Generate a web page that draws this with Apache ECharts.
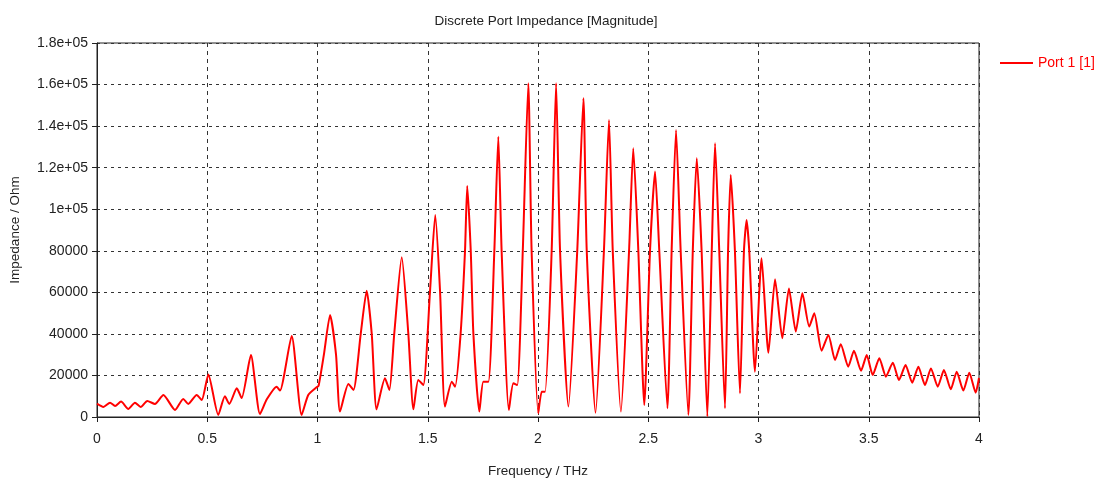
<!DOCTYPE html>
<html>
<head>
<meta charset="utf-8">
<title>Discrete Port Impedance</title>
<script src="https://cdn.jsdelivr.net/npm/echarts@6/dist/echarts.min.js"></script>
<style>
  html, body { margin: 0; padding: 0; background: #fff; }
  #chart { width: 1104px; height: 488px; }
</style>
</head>
<body>
<div id="chart"></div>
<script>
// frequency (THz) and impedance magnitude (Ohm)
var freqs = [
  0, 0.029, 0.059, 0.082, 0.109, 0.142, 0.172, 0.198, 0.228, 0.263,
  0.301, 0.354, 0.391, 0.414, 0.452, 0.475, 0.505, 0.55, 0.58, 0.60,
  0.634, 0.656, 0.698, 0.739, 0.77, 0.815, 0.83, 0.883, 0.928, 0.958,
  0.996, 1.005, 1.029, 1.057, 1.084, 1.102, 1.14, 1.163, 1.196, 1.223,
  1.246, 1.268, 1.306, 1.326, 1.348, 1.382, 1.412, 1.435, 1.457, 1.48,
  1.51, 1.534, 1.556, 1.578, 1.609, 1.624, 1.649, 1.669, 1.679, 1.695,
  1.707, 1.734, 1.752, 1.775, 1.802, 1.82, 1.835, 1.868, 1.888, 1.906,
  1.931, 1.956, 1.971, 2.001, 2.017, 2.032, 2.062, 2.082, 2.1, 2.138,
  2.178, 2.206, 2.221, 2.261, 2.299, 2.322, 2.339, 2.376, 2.413, 2.432,
  2.455, 2.482, 2.508, 2.531, 2.55, 2.587, 2.606, 2.626, 2.647, 2.682,
  2.702, 2.72, 2.742, 2.768, 2.788, 2.803, 2.822, 2.848, 2.862, 2.874,
  2.893, 2.916, 2.934, 2.946, 2.958, 2.984, 3.014, 3.045, 3.075, 3.108,
  3.138, 3.169, 3.199, 3.23, 3.253, 3.286, 3.317, 3.347, 3.373, 3.407,
  3.433, 3.465, 3.491, 3.518, 3.548, 3.578, 3.609, 3.637, 3.667, 3.697,
  3.725, 3.755, 3.782, 3.813, 3.841, 3.872, 3.899, 3.929, 3.956, 3.985,
  4.0
];
var impedance = [
  6400, 4800, 6900, 5300, 7400, 3900, 6900, 4800, 7700, 6300,
  10600, 3400, 8700, 6300, 10600, 8200, 20500, 1000, 10000, 6300,
  13800, 9100, 29800, 1400, 8500, 14600, 12700, 39000, 1000, 10600,
  14300, 15000, 30000, 49100, 30000, 2600, 15900, 13000, 40000, 60800,
  40000, 3700, 18600, 13000, 40000, 76900, 40000, 3700, 17800, 15400,
  60000, 97200, 60000, 5000, 17000, 14600, 40000, 80000, 111200, 80000,
  40000, 2600, 17000, 17000, 80000, 134900, 80000, 3400, 16200, 15400,
  80000, 160600, 80000, 1800, 12200, 12200, 80000, 160600, 80000, 5000,
  80000, 153400, 80000, 2100, 80000, 142900, 80000, 2600, 80000, 129300,
  80000, 5800, 80000, 118100, 80000, 4200, 80000, 138100, 80000, 1000,
  80000, 124500, 80000, 300, 80000, 131700, 80000, 4200, 80000, 116500,
  80000, 11400, 80000, 94800, 80000, 21800, 76400, 30900, 66300, 37900,
  61900, 41100, 59500, 43500, 49900, 31900, 39500, 27400, 35000, 24200,
  31900, 22300, 29800, 20200, 28300, 19400, 26100, 17800, 25000, 16500,
  24200, 15400, 23400, 14600, 22600, 13300, 21800, 12700, 21300, 11700,
  18800
];
var yTicks = ['0', '20000', '40000', '60000', '80000', '1e+05', '1.2e+05', '1.4e+05', '1.6e+05', '1.8e+05'];

var font = 'Liberation Sans';
var chart = echarts.init(document.getElementById('chart'));
chart.setOption({
  animation: false,
  backgroundColor: '#fff',
  title: {
    text: 'Discrete Port Impedance [Magnitude]',
    left: 541,
    textAlign: 'center',
    top: 9,
    textStyle: { fontFamily: font, fontSize: 13.5, fontWeight: 'normal', color: '#222' }
  },
  legend: {
    left: 995,
    top: 51,
    icon: 'rect',
    itemWidth: 33,
    itemHeight: 2,
    itemGap: 5,
    textStyle: { fontFamily: font, fontSize: 14, color: '#ff0000' },
    data: ['Port 1 [1]']
  },
  grid: {
    left: 97, right: 125, top: 43, bottom: 71,
    show: true, borderColor: '#222', borderWidth: 1
  },
  xAxis: {
    type: 'value',
    min: 0, max: 4, interval: 0.5,
    name: 'Frequency / THz',
    nameLocation: 'middle',
    nameGap: 47,
    nameTextStyle: { fontFamily: font, fontSize: 13.5, color: '#222' },
    axisLine: { lineStyle: { color: '#222' } },
    axisTick: { show: true, length: 5, lineStyle: { color: '#222' } },
    axisLabel: { fontFamily: font, fontSize: 14, color: '#222', margin: 15 },
    splitLine: { show: true, lineStyle: { color: '#333', type: [4, 4], width: 1 } }
  },
  yAxis: {
    type: 'value',
    min: 0, max: 180000, interval: 20000,
    name: 'Impedance / Ohm',
    nameLocation: 'middle',
    nameGap: 75,
    nameTextStyle: { fontFamily: font, fontSize: 13.5, color: '#222' },
    axisLine: { show: true, lineStyle: { color: '#222' } },
    axisTick: { show: true, length: 5, lineStyle: { color: '#222' } },
    axisLabel: {
      fontFamily: font, fontSize: 14, color: '#222', margin: 9,
      formatter: function (v) { return yTicks[Math.round(v / 20000)]; }
    },
    splitLine: { show: true, lineStyle: { color: '#333', type: [3, 4], width: 1 } }
  },
  series: [{
    name: 'Port 1 [1]',
    type: 'line',
    data: freqs.map(function (f, i) { return [f, impedance[i]]; }),
    showSymbol: false,
    symbol: 'none',
    smooth: 0.2,
    lineStyle: { color: '#ff0000', width: 2 },
    itemStyle: { color: '#ff0000' }
  }]
});
</script>
</body>
</html>
